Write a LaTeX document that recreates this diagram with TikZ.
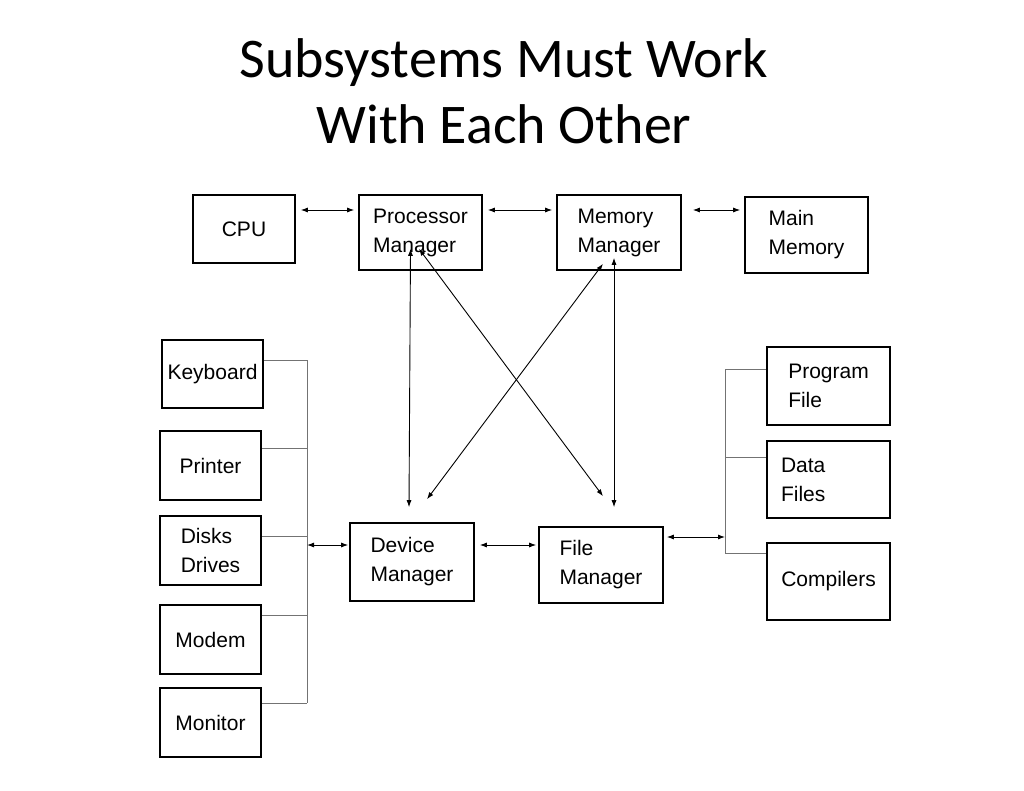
\documentclass[tikz,border=0pt]{standalone}
\usepackage{fontspec}
\setmainfont{Liberation Sans}
\newfontfamily\titlefont{Carlito}
\usetikzlibrary{arrows.meta}

\begin{document}
\begin{tikzpicture}[x=1pt, y=-1pt, >={Latex[length=7pt,width=5pt]},
    bus/.style={draw, black!55, line width=1pt}]

        \useasboundingbox (0,0) rectangle (1024,791);

        \node[font=\titlefont\fontsize{56}{66}\selectfont, align=center, anchor=base] (title)
          at (504,144) {Subsystems Must Work\\With Each Other};

        \begin{scope}[every node/.style={draw, line width=1.6pt, inner sep=0pt, align=left,
            font=\fontsize{21}{29}\selectfont}]
          \node[minimum width=102, minimum height=68] (cpu) at (244,229)   {CPU};
          \node[minimum width=123, minimum height=75] (pm)  at (420.5,232.5) {Processor\\Manager};
          \node[minimum width=124, minimum height=75] (mm)  at (619,232.5) {Memory\\Manager};
          \node[minimum width=123, minimum height=76] (mem) at (806.5,235) {Main\\Memory};
          \node[minimum width=101, minimum height=68] (kbd) at (212.5,374) {Keyboard};
          \node[minimum width=101, minimum height=69] (prn) at (210.5,465.5) {Printer};
          \node[minimum width=101, minimum height=69] (dsk) at (210.5,550.5) {Disks\\Drives};
          \node[minimum width=101, minimum height=69] (mdm) at (210.5,639.5) {Modem};
          \node[minimum width=101, minimum height=69] (mon) at (210.5,722.5) {Monitor};
          \node[minimum width=124, minimum height=78] (dm)  at (412,562)   {Device\\Manager};
          \node[minimum width=124, minimum height=76] (fm)  at (601,565)   {File\\Manager};
          \node[minimum width=123, minimum height=78] (prg) at (828.5,386) {Program\\File};
          \node[minimum width=123, minimum height=77, text width=95] (dat) at (828.5,479.5) {Data\\Files};
          \node[minimum width=123, minimum height=77] (cmp) at (828.5,581.5) {Compilers};
        \end{scope}

        \coordinate (toprow) at (0,210);
        \coordinate (lbus) at (307,0);
        \coordinate (rbus) at (725,0);

        % device bus on the left, file bus on the right
        \foreach \dev/\y in {kbd/360, prn/448, dsk/536, mdm/615, mon/703}
          \draw[bus] (\dev.east |- 0,\y) -- (lbus |- 0,\y);
        \draw[bus] (lbus |- 0,360) -- (lbus |- 0,703);
        \foreach \f/\y in {prg/369, dat/457, cmp/553}
          \draw[bus] (rbus |- 0,\y) -- (\f.west |- 0,\y);
        \draw[bus] (rbus |- 0,369) -- (rbus |- 0,553);

        \begin{scope}[every edge/.style={draw, line width=0.9pt, <->}]
          \path (cpu.east |- toprow) edge[shorten <=5pt, shorten >=4pt] (pm.west |- toprow);
          \path (pm.east |- toprow)  edge[shorten <=5pt, shorten >=4pt] (mm.west |- toprow);
          \path (mm.east |- toprow)  edge[shorten <=11pt, shorten >=4pt] (mem.west |- toprow);
          \path (lbus |- 0,545) edge[shorten >=1pt] (dm.west |- 0,545);
          \path (dm.east |- 0,545) edge[shorten <=5pt, shorten >=2pt] (fm.west |- 0,545);
          \path (fm.east |- 0,537) edge[shorten <=3pt] (rbus |- 0,537);
          \path ([xshift=-10pt,yshift=22pt]pm.south) edge ([xshift=-3pt,yshift=15pt]dm.north);
          \path ([xshift=-1.5pt,yshift=22pt]pm.south) edge ([xshift=2pt,yshift=30pt]fm.north);
          \path ([xshift=-16pt,yshift=7pt]mm.south) edge ([xshift=15pt,yshift=23pt]dm.north);
          \path ([xshift=-5pt,yshift=13pt]mm.south) edge ([xshift=13pt,yshift=19pt]fm.north);
        \end{scope}

      \end{tikzpicture}
\end{document}
